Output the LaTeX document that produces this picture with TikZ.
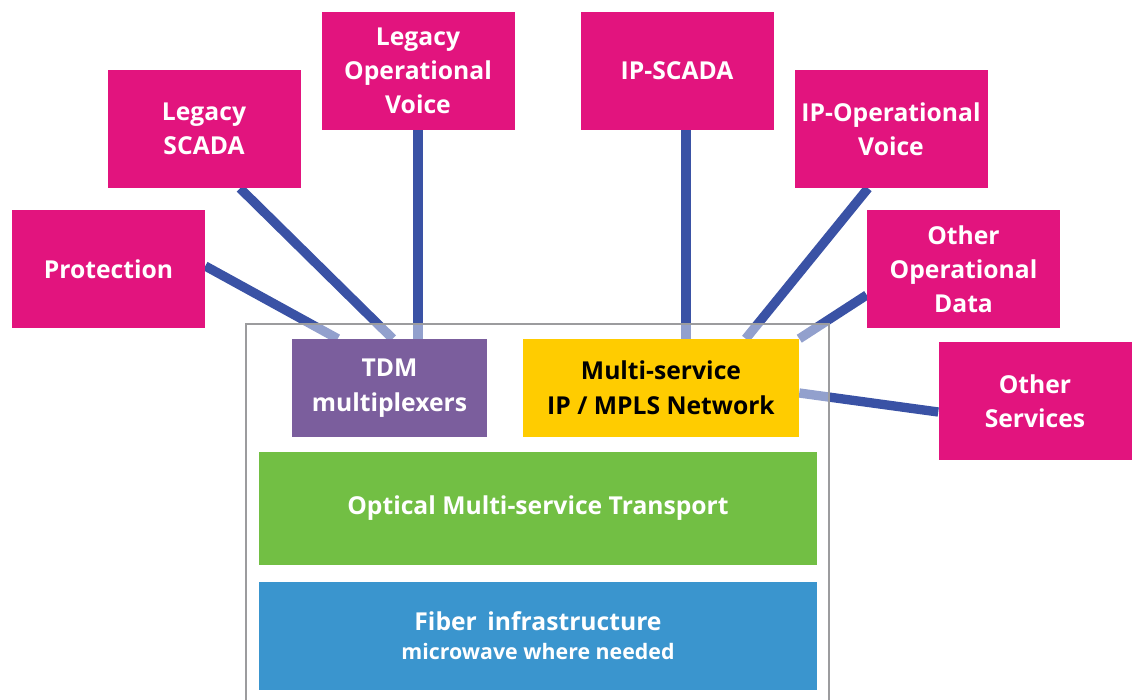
\documentclass[tikz,border=0pt]{standalone}
\usepackage{fontspec}
\setmainfont{Open Sans}
\usetikzlibrary{positioning,backgrounds}

\definecolor{svcpink}{HTML}{E2147E}
\definecolor{tdmpurple}{HTML}{7B5E9D}
\definecolor{mplsyellow}{HTML}{FFCC00}
\definecolor{optgreen}{HTML}{72BF44}
\definecolor{fibreblue}{HTML}{3A95CE}
\definecolor{linkblue}{HTML}{3A52A5}
\definecolor{framegray}{HTML}{9C9C9E}

\begin{document}
\begin{tikzpicture}[x=0.75pt, y=-0.75pt,
  every node/.style={rectangle, inner sep=0pt, align=center, font=\bfseries\fontsize{18.5}{25.5}\selectfont},
  service/.style={fill=svcpink, text=white, minimum width=144.75pt, minimum height=88.5pt},
  stackbox/.style={font=\bfseries\fontsize{18.5}{26.5}\selectfont},
  layer/.style={stackbox, text=white, minimum width=418.5pt},
  link/.style={linkblue, line width=7pt}]
\useasboundingbox (0,0) rectangle (1136,700);

% services on top
\node[service] (prot)    at (108.5,269) {Protection};
\node[service] (lscada)  at (204,129)   {Legacy\\SCADA};
\node[service] (lvoice)  at (418,70.5)  {Legacy\\Operational\\Voice};
\node[service] (ipscada) at (677,70.5)  {IP-SCADA};
\node[service] (ipvoice) at (891,129)   {IP-Operational\\Voice};
\node[service] (opdata)  at (963.5,269) {Other\\Operational\\Data};
\node[service] (osvc)    at (1035,401)  {Other\\Services};

% the network stack
\node[stackbox, fill=tdmpurple, text=white, minimum width=146.25pt, minimum height=73.5pt] (tdm) at (389.5,388) {TDM\\multiplexers};
\node[stackbox, fill=mplsyellow, text=black, minimum width=207pt, minimum height=73.5pt] (mpls) at (661,388) {Multi-service\\IP / MPLS Network};
\node[layer, fill=optgreen, minimum height=84.75pt] (optic) at (538,508.5) {Optical Multi-service Transport};
\node[layer, fill=fibreblue, minimum height=81pt, below=12pt of optic] (fiber) {Fiber\,  infrastructure\\[-5pt]{\fontsize{16}{19}\selectfont microwave where needed}};

\begin{scope}[on background layer]
\draw[link] ([yshift=2.25pt]prot.east) -- ([xshift=34.5pt]tdm.north west);
\draw[link] ([xshift=27pt]lscada.south) -- ([xshift=75.75pt]tdm.north west);
\draw[link] (lvoice.south) -- (lvoice.south |- tdm.north);
\draw[link] ([xshift=6.75pt]ipscada.south) -- ([xshift=6.75pt]ipscada.south |- mpls.north);
\draw[link] ([xshift=-17.25pt]ipvoice.south) -- ([xshift=167.25pt]mpls.north west);
\draw[link] ([yshift=-19.5pt]opdata.west) -- (mpls.north east);
\draw[link] ([yshift=-3.75pt]mpls.east) -- ([yshift=-8.25pt]osvc.west);
% frame washes out the links inside it
\fill[white, fill opacity=0.45] (246,324) rectangle (829,701);
\draw[framegray, line width=1.8pt] (246,702) -- (246,324) -- (829,324) -- (829,702);
\end{scope}
\end{tikzpicture}
\end{document}
